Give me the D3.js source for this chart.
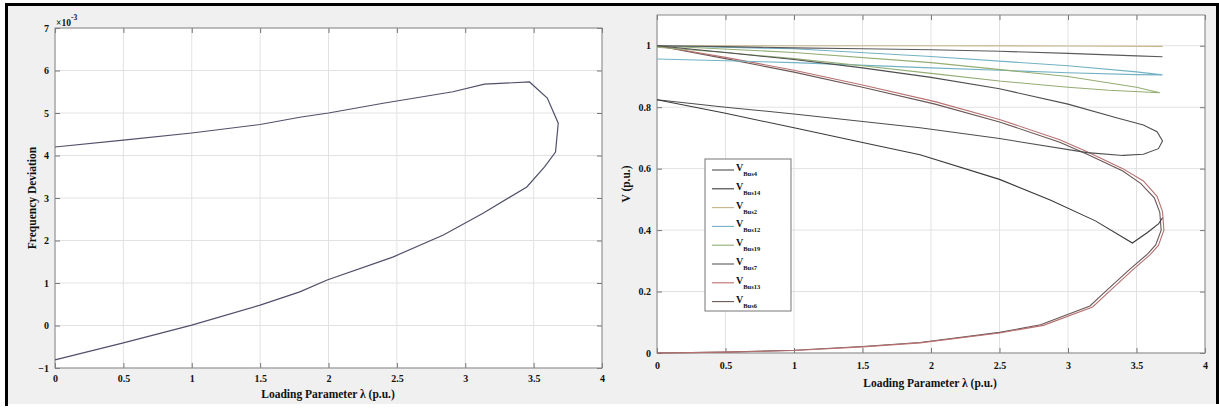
<!DOCTYPE html>
<html>
<head>
<meta charset="utf-8">
<script src="https://cdn.jsdelivr.net/npm/d3@7"></script>
<style>
  body { margin: 0; background: #ffffff; }
  svg { display: block; }
  text { font-family: "Liberation Serif", "Times New Roman", serif; font-weight: bold; fill: #111; }
</style>
</head>
<body>
<svg id="chart" width="1219" height="409"></svg>
<script>
// ---------------- DATA ----------------
const lambdaTicks = [0, 0.5, 1, 1.5, 2, 2.5, 3, 3.5, 4];
const freqTicks = [-1, 0, 1, 2, 3, 4, 5, 6, 7];
const voltTicks = [0, 0.2, 0.4, 0.6, 0.8, 1];

// Left panel: frequency deviation (x10^-3) vs loading parameter
const freqLambda = [0, 0.5, 1, 1.5, 1.79, 2, 2.4, 2.91, 3.14, 3.47, 3.6, 3.68, 3.66, 3.58, 3.45, 3.13, 2.84, 2.47, 1.99, 1.79, 1.5, 1, 0.5, 0];
const freqDev    = [4.2, 4.36, 4.53, 4.73, 4.9, 5.0, 5.23, 5.5, 5.68, 5.73, 5.35, 4.76, 4.08, 3.73, 3.26, 2.64, 2.13, 1.61, 1.07, 0.79, 0.48, 0.01, -0.41, -0.81];

// Right panel: bus voltages (p.u.) vs loading parameter
const busNames = ["Bus4", "Bus14", "Bus2", "Bus12", "Bus19", "Bus7", "Bus13", "Bus6"];
const busColors = ["#4e4e4e", "#3a3a3a", "#c8b48a", "#72b2c4", "#93ad72", "#5a5a5a", "#b87070", "#6a5656"];

const lamBus4 = [0, 0.5, 1, 1.5, 2, 2.5, 3, 3.36, 3.55, 3.65, 3.69, 3.66, 3.55, 3.4, 3.14, 2.5, 1.92, 1, 0.5, 0];
const vBus4   = [1.0, 0.978, 0.955, 0.928, 0.897, 0.86, 0.81, 0.765, 0.742, 0.72, 0.69, 0.665, 0.647, 0.643, 0.652, 0.698, 0.733, 0.778, 0.8, 0.824];

const lamBus14 = [0, 0.5, 1, 1.5, 1.92, 2.5, 2.87, 3.2, 3.47, 3.58, 3.66, 3.69];
const vBus14   = [0.824, 0.78, 0.733, 0.685, 0.645, 0.565, 0.498, 0.43, 0.358, 0.392, 0.42, 0.44];

const lamBus2 = [0, 1, 2, 3, 3.69];
const vBus2   = [1.0, 1.0, 1.0, 0.999, 0.998];

const lamBus12 = [0, 1, 2, 3, 3.5, 3.69, 3.5, 3, 2.5, 2, 1, 0.5, 0];
const vBus12   = [1.0, 0.99, 0.965, 0.935, 0.915, 0.905, 0.906, 0.912, 0.92, 0.928, 0.945, 0.951, 0.957];

const lamBus19 = [0, 1, 2, 3, 3.5, 3.67, 3.3, 3, 2.5, 2, 1.5, 1, 0.5, 0];
const vBus19   = [1.0, 0.978, 0.945, 0.9, 0.865, 0.847, 0.855, 0.865, 0.885, 0.91, 0.935, 0.958, 0.978, 0.995];

const lamBus7 = [0, 0.5, 1, 1.5, 2, 2.5, 3, 3.5, 3.69];
const vBus7   = [1.0, 0.997, 0.993, 0.99, 0.987, 0.982, 0.975, 0.967, 0.964];

const lamBus13 = [0, 0.5, 1, 1.5, 2.03, 2.5, 2.94, 3.14, 3.4, 3.55, 3.65, 3.69, 3.7, 3.66, 3.6, 3.47, 3.3, 3.18, 2.82, 2.5, 1.92, 1.5, 1, 0.5, 0];
const vBus13   = [1.0, 0.962, 0.92, 0.872, 0.818, 0.76, 0.694, 0.655, 0.6, 0.56, 0.51, 0.46, 0.40, 0.35, 0.32, 0.27, 0.2, 0.15, 0.09, 0.065, 0.033, 0.02, 0.008, 0.003, 0.0];

const lamBus6 = [0, 0.5, 1, 1.5, 2.03, 2.5, 2.94, 3.14, 3.4, 3.53, 3.63, 3.67, 3.68, 3.64, 3.58, 3.45, 3.28, 3.16, 2.8, 2.5, 1.92, 1.5, 1, 0.5, 0];
const vBus6   = [1.0, 0.958, 0.914, 0.865, 0.81, 0.752, 0.686, 0.647, 0.592, 0.552, 0.505, 0.458, 0.40, 0.352, 0.322, 0.272, 0.203, 0.153, 0.092, 0.067, 0.034, 0.021, 0.009, 0.003, 0.0];

const busLam = [lamBus4, lamBus14, lamBus2, lamBus12, lamBus19, lamBus7, lamBus13, lamBus6];
const busV   = [vBus4, vBus14, vBus2, vBus12, vBus19, vBus7, vBus13, vBus6];

// ---------------- DRAW ----------------
const svg = d3.select("#chart");

// figure backgrounds and frame
svg.append("rect").attr("x", 8).attr("y", 6).attr("width", 600).attr("height", 398).attr("fill", "#f0f0f0");
svg.append("rect").attr("x", 608).attr("y", 6).attr("width", 608).attr("height", 398).attr("fill", "#f0f0f0");
svg.append("rect").attr("x", 5).attr("y", 3).attr("width", 1214).attr("height", 3).attr("fill", "#000");
svg.append("rect").attr("x", 5).attr("y", 3).attr("width", 3).attr("height", 403).attr("fill", "#000");
svg.append("rect").attr("x", 1216).attr("y", 3).attr("width", 3).attr("height", 401).attr("fill", "#000");

function drawAxes(x, y, xTicks, yTicks, yFmt, xPad) {
  const [x0, x1] = x.range();
  const [y0, y1] = y.range(); // y0 bottom, y1 top
  const g = svg.append("g");
  g.append("rect").attr("x", x0).attr("y", y1).attr("width", x1 - x0).attr("height", y0 - y1).attr("fill", "#fff");
  // grid
  g.selectAll(".gx").data(xTicks).join("line")
    .attr("x1", d => x(d)).attr("x2", d => x(d)).attr("y1", y0).attr("y2", y1)
    .attr("stroke", "#e2e2e2").attr("stroke-width", 1);
  g.selectAll(".gy").data(yTicks).join("line")
    .attr("x1", x0).attr("x2", x1).attr("y1", d => y(d)).attr("y2", d => y(d))
    .attr("stroke", "#e2e2e2").attr("stroke-width", 1);

  const fmtX = d3.format("~g");
  const axB = g.append("g").attr("transform", `translate(0,${y0})`)
    .call(d3.axisBottom(x).tickValues(xTicks).tickFormat(fmtX).tickSizeInner(-5).tickSizeOuter(0).tickPadding(xPad));
  const axT = g.append("g").attr("transform", `translate(0,${y1})`)
    .call(d3.axisTop(x).tickValues(xTicks).tickFormat("").tickSizeInner(-5).tickSizeOuter(0));
  const axL = g.append("g").attr("transform", `translate(${x0},0)`)
    .call(d3.axisLeft(y).tickValues(yTicks).tickFormat(yFmt).tickSizeInner(-5).tickSizeOuter(0).tickPadding(6));
  const axR = g.append("g").attr("transform", `translate(${x1},0)`)
    .call(d3.axisRight(y).tickValues(yTicks).tickFormat("").tickSizeInner(-5).tickSizeOuter(0));
  [axB, axT, axL, axR].forEach(a => {
    a.select(".domain").remove();
    a.selectAll("line").attr("stroke", "#777");
    a.selectAll("text").attr("font-size", 10).attr("font-family", "Liberation Serif").attr("font-weight", "bold").attr("fill", "#111");
  });
  g.append("rect").attr("x", x0).attr("y", y1).attr("width", x1 - x0).attr("height", y0 - y1)
    .attr("fill", "none").attr("stroke", "#888").attr("stroke-width", 1);
  return g;
}

// ----- Left panel -----
const xL = d3.scaleLinear().domain([0, 4]).range([55, 602]);
const yL = d3.scaleLinear().domain([-1, 7]).range([368, 28]);
drawAxes(xL, yL, lambdaTicks, freqTicks, d3.format("d"), 7);

const lineL = d3.line().x(d => xL(d[0])).y(d => yL(d[1]));
svg.append("path")
  .datum(freqLambda.map((l, i) => [l, freqDev[i]]))
  .attr("d", lineL).attr("fill", "none").attr("stroke", "#50506a").attr("stroke-width", 1.2);

// exponent label
const expT = svg.append("text").attr("x", 56).attr("y", 26).attr("font-size", 9.5);
expT.append("tspan").text("×10");
expT.append("tspan").attr("dy", -6).attr("font-size", 7.5).text("-3");

svg.append("text").attr("x", 328).attr("y", 398).attr("text-anchor", "middle").attr("font-size", 11.5)
  .text("Loading Parameter λ (p.u.)");
svg.append("text").attr("transform", "translate(36,198) rotate(-90)").attr("text-anchor", "middle").attr("font-size", 11.5)
  .text("Frequency Deviation");

// ----- Right panel -----
const xR = d3.scaleLinear().domain([0, 4]).range([657, 1205]);
const yR = d3.scaleLinear().domain([0, 1.1]).range([353, 15]);
drawAxes(xR, yR, lambdaTicks, voltTicks, d3.format("~g"), 9);

const lineR = d3.line().x(d => xR(d[0])).y(d => yR(d[1]));
const drawOrder = [2, 7, 6, 3, 4, 0, 1, 5];
drawOrder.forEach(i => {
  svg.append("path")
    .datum(busLam[i].map((l, k) => [l, busV[i][k]]))
    .attr("d", lineR).attr("fill", "none").attr("stroke", busColors[i]).attr("stroke-width", 1.1);
});

svg.append("text").attr("x", 930).attr("y", 387).attr("text-anchor", "middle").attr("font-size", 11.5)
  .text("Loading Parameter λ (p.u.)");
svg.append("text").attr("transform", "translate(630,184) rotate(-90)").attr("text-anchor", "middle").attr("font-size", 11.5)
  .text("V (p.u.)");

// legend
const leg = svg.append("g");
leg.append("rect").attr("x", 705).attr("y", 159).attr("width", 86).attr("height", 152)
  .attr("fill", "#fff").attr("stroke", "#777").attr("stroke-width", 1);
busNames.forEach((name, i) => {
  const yy = 170 + i * 18.8;
  leg.append("line").attr("x1", 712).attr("x2", 734).attr("y1", yy).attr("y2", yy)
    .attr("stroke", busColors[i]).attr("stroke-width", 1.1);
  const t = leg.append("text").attr("x", 736).attr("y", yy + 1).attr("font-size", 10).attr("font-weight", "normal");
  t.append("tspan").text("V");
  t.append("tspan").attr("dy", 5).attr("font-size", 6.5).attr("font-weight", "bold").text(name);
});
</script>
</body>
</html>
